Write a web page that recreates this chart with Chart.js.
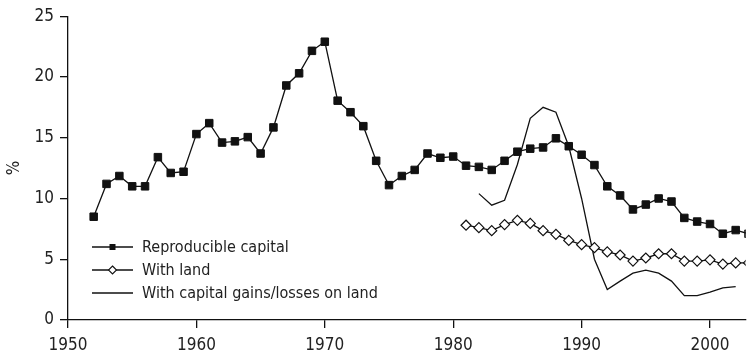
<!DOCTYPE html>
<html>
<head>
<meta charset="utf-8">
<script src="https://cdn.jsdelivr.net/npm/chart.js@4"></script>
<style>
  html, body { margin: 0; padding: 0; background: #fff; }
  #wrap { width: 752px; height: 357px; }
</style>
</head>
<body>
<div id="wrap"><canvas id="returnChart"></canvas></div>
<script>
// rates of return, % per year
const reproYears = [1952, 1953, 1954, 1955, 1956, 1957, 1958, 1959, 1960, 1961,
    1962, 1963, 1964, 1965, 1966, 1967, 1968, 1969, 1970, 1971,
    1972, 1973, 1974, 1975, 1976, 1977, 1978, 1979, 1980, 1981,
    1982, 1983, 1984, 1985, 1986, 1987, 1988, 1989, 1990, 1991,
    1992, 1993, 1994, 1995, 1996, 1997, 1998, 1999, 2000, 2001,
    2002, 2003];
const reproValues = [8.5, 11.2, 11.85, 11.0, 11.0, 13.4, 12.1, 12.2, 15.3, 16.2,
    14.6, 14.7, 15.05, 13.7, 15.85, 19.3, 20.3, 22.15, 22.9, 18.05,
    17.1, 15.95, 13.1, 11.1, 11.85, 12.35, 13.7, 13.35, 13.45, 12.7,
    12.6, 12.35, 13.1, 13.85, 14.1, 14.2, 14.95, 14.3, 13.6, 12.75,
    11.0, 10.25, 9.1, 9.5, 10.0, 9.75, 8.4, 8.1, 7.9, 7.1,
    7.4, 7.1];

const landYears = [1981, 1982, 1983, 1984, 1985, 1986, 1987, 1988, 1989, 1990,
    1991, 1992, 1993, 1994, 1995, 1996, 1997, 1998, 1999, 2000,
    2001, 2002, 2003];
const landValues = [7.8, 7.6, 7.35, 7.85, 8.2, 7.95, 7.35, 7.05, 6.55, 6.2,
    5.95, 5.6, 5.35, 4.85, 5.1, 5.45, 5.45, 4.85, 4.85, 4.95,
    4.6, 4.7, 4.7];

const gainsYears = [1982, 1983, 1984, 1985, 1986, 1987, 1988, 1989, 1990, 1991,
    1992, 1993, 1994, 1995, 1996, 1997, 1998, 1999, 2000, 2001,
    2002];
const gainsValues = [10.4, 9.45, 9.85, 12.8, 16.6, 17.5, 17.1, 14.3, 10.0, 5.0,
    2.5, 3.2, 3.85, 4.1, 3.85, 3.2, 2.0, 2.0, 2.3, 2.65,
    2.75];

const seriesNames = ["Reproducible capital", "With land", "With capital gains/losses on land"];
const yTicks = [0, 5, 10, 15, 20, 25];

const FONT = "'DejaVu Sans Condensed', 'DejaVu Sans', sans-serif";
const INK = "#111";

const toPoints = (xs, ys) => xs.map((x, i) => ({ x, y: ys[i] }));

/* ================= IN-PLOT LEGEND ================= */
const legendPlugin = {
    id: "lineLegend",
    afterDraw(chart) {
        const ctx = chart.ctx;
        const rows = [247, 270, 293];
        ctx.save();
        chart.data.datasets.forEach((ds, i) => {
            const y = rows[i];
            ctx.strokeStyle = INK;
            ctx.lineWidth = 1.3;
            ctx.beginPath();
            ctx.moveTo(92, y);
            ctx.lineTo(133, y);
            ctx.stroke();
            if (ds.pointStyle === "rect") {
                ctx.fillStyle = INK;
                ctx.fillRect(109.5, y - 3, 6, 6);
            } else if (ds.pointStyle === "rectRot") {
                ctx.fillStyle = "#fff";
                ctx.lineWidth = 1.1;
                ctx.beginPath();
                ctx.moveTo(112.5, y - 4);
                ctx.lineTo(116.5, y);
                ctx.lineTo(112.5, y + 4);
                ctx.lineTo(108.5, y);
                ctx.closePath();
                ctx.fill();
                ctx.stroke();
            }
            ctx.fillStyle = "#222";
            ctx.font = "16px " + FONT;
            ctx.textBaseline = "middle";
            ctx.fillText(ds.label, 142, y + 1);
        });
        ctx.restore();
    }
};

new Chart(document.getElementById("returnChart"), {
    type: "line",
    data: {
        datasets: [{
            label: seriesNames[0],
            data: toPoints(reproYears, reproValues),
            borderColor: INK,
            borderWidth: 1.3,
            pointStyle: "rect",
            pointRadius: 5.3,
            pointBackgroundColor: INK,
            pointBorderColor: INK,
            pointBorderWidth: 1
        }, {
            label: seriesNames[1],
            data: toPoints(landYears, landValues),
            borderColor: INK,
            borderWidth: 1.3,
            pointStyle: "rectRot",
            pointRadius: 5,
            pointBackgroundColor: "#fff",
            pointBorderColor: INK,
            pointBorderWidth: 1.2
        }, {
            label: seriesNames[2],
            data: toPoints(gainsYears, gainsValues),
            borderColor: INK,
            borderWidth: 1.3,
            pointRadius: 0
        }]
    },
    options: {
        responsive: true,
        maintainAspectRatio: false,
        animation: false,
        layout: { padding: { top: 14, right: 0, left: 0, bottom: 0 } },
        plugins: {
            legend: { display: false },
            tooltip: { enabled: false }
        },
        elements: { line: { tension: 0 } },
        scales: {
            x: {
                type: "linear",
                min: 1950,
                max: 2002.78,
                afterFit: s => { s.height = 37; },
                border: { color: INK, width: 1.3 },
                grid: { drawOnChartArea: false, drawTicks: true, tickLength: 8, color: INK, lineWidth: 1.3 },
                ticks: {
                    stepSize: 10,
                    includeBounds: false,
                    padding: 7,
                    color: "#222",
                    font: { family: FONT, size: 17 },
                    callback: v => String(v)
                }
            },
            y: {
                min: 0,
                max: 25,
                afterFit: s => { s.width = 68; },
                afterBuildTicks: s => { s.ticks = yTicks.map(v => ({ value: v })); },
                border: { color: INK, width: 1.3 },
                grid: { drawOnChartArea: false, drawTicks: true, tickLength: 8, color: INK, lineWidth: 1.3 },
                title: { display: true, text: "%", color: "#222", font: { family: FONT, size: 17 }, padding: 4 },
                ticks: {
                    padding: 6,
                    color: "#222",
                    font: { family: FONT, size: 17 }
                }
            }
        }
    },
    plugins: [legendPlugin]
});
</script>
</body>
</html>
